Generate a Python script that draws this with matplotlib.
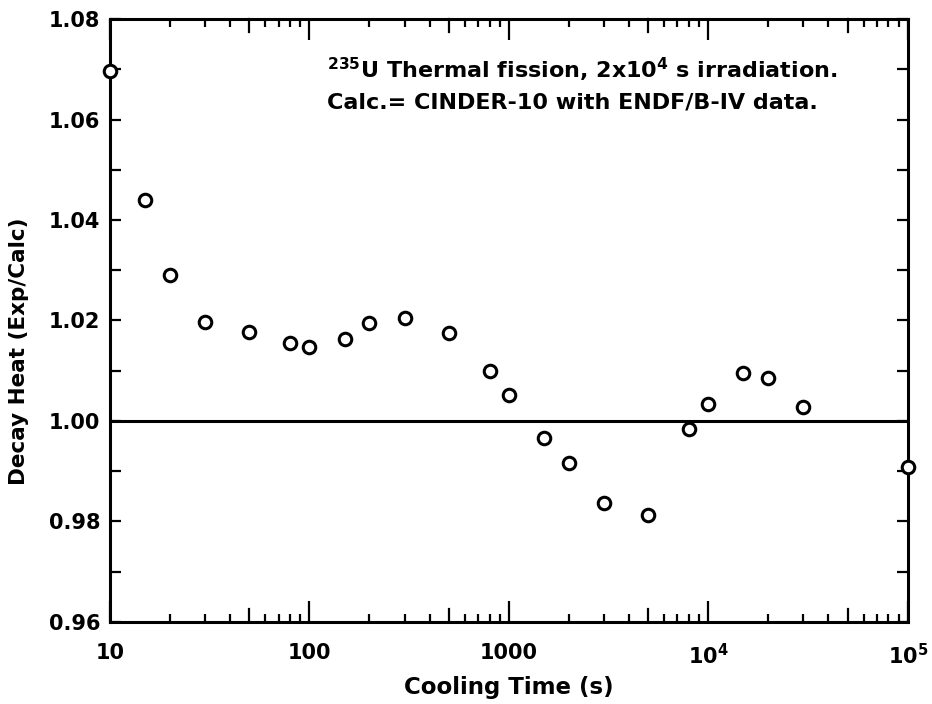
import matplotlib
matplotlib.use("Agg")
import matplotlib.pyplot as plt
from matplotlib.ticker import FixedLocator, FixedFormatter, MultipleLocator
import numpy as np

# Cooling time (s) and measured/calculated decay heat ratio
cooling_time = [10, 15, 20, 30, 50, 80, 100, 150, 200, 300, 500, 800, 1000,
                1500, 2000, 3000, 5000, 8000, 10000, 15000, 20000, 30000, 100000]
ratio = [1.0696, 1.0440, 1.0290, 1.0198, 1.0178, 1.0155, 1.0148, 1.0163,
         1.0195, 1.0204, 1.0175, 1.0100, 1.0052, 0.9966, 0.9916, 0.9837,
         0.9813, 0.9985, 1.0034, 1.0096, 1.0086, 1.0027, 0.9909]

x_ticks = [10, 100, 1000, 1e4, 1e5]
x_ticklabels = ["10", "100", "1000", r"10$^4$", r"10$^5$"]

plt.rcParams["font.family"] = ["DejaVu Sans"]
plt.rcParams["font.weight"] = "bold"

fig = plt.figure(figsize=(9.32, 7.04), dpi=100)
ax = fig.add_axes([0.118, 0.1165, 0.856, 0.8565])

ax.axhline(1.0, color="black", lw=2.2, zorder=1)
ax.plot(cooling_time, ratio, "o", ms=9, mfc="white", mec="black", mew=2.2,
        clip_on=False, zorder=3)

ax.set_xscale("log")
ax.set_xlim(10, 1e5)
ax.set_ylim(0.96, 1.08)

# x ticks: long at decades, medium at 5x, short elsewhere
ax.xaxis.set_major_locator(FixedLocator(x_ticks))
ax.xaxis.set_major_formatter(FixedFormatter(x_ticklabels))
fives = [5 * 10 ** k for k in range(1, 5)]
others = [m * 10 ** k for k in range(1, 5) for m in (2, 3, 4, 6, 7, 8, 9)]
ax.xaxis.set_minor_locator(FixedLocator(others))
ax.tick_params(axis="x", which="major", direction="in", length=15, width=1.6,
               top=True, bottom=True, labelsize=15, pad=15)
ax.tick_params(axis="x", which="minor", direction="in", length=6, width=1.6,
               top=True, bottom=True)
for xv in fives:
    ax.plot([xv, xv], [0, 0.022], transform=ax.get_xaxis_transform(),
            color="black", lw=1.6, clip_on=False)
    ax.plot([xv, xv], [1, 0.978], transform=ax.get_xaxis_transform(),
            color="black", lw=1.6, clip_on=False)

ax.yaxis.set_major_locator(MultipleLocator(0.02))
ax.yaxis.set_minor_locator(MultipleLocator(0.01))
ax.yaxis.set_major_formatter(matplotlib.ticker.FormatStrFormatter("%.2f"))
ax.tick_params(axis="y", which="both", direction="in", length=8, width=1.6,
               left=True, right=True, labelsize=15, pad=7)

for s in ax.spines.values():
    s.set_linewidth(2.2)

ax.set_xlabel("Cooling Time (s)", fontsize=16.5, fontweight="bold", labelpad=6)
ax.set_ylabel("Decay Heat (Exp/Calc)", fontsize=15.5, fontweight="bold")
ax.yaxis.set_label_coords(-0.102, 0.449)

ax.text(0.272, 0.915, r"$^{\mathbf{235}}$U Thermal fission, 2x10$^{\mathbf{4}}$ s irradiation.",
        transform=ax.transAxes, fontsize=16, fontweight="bold", va="center")
ax.text(0.272, 0.862, "Calc.= CINDER-10 with ENDF/B-IV data.",
        transform=ax.transAxes, fontsize=16, fontweight="bold", va="center")

fig.savefig("out.png", dpi=100)
